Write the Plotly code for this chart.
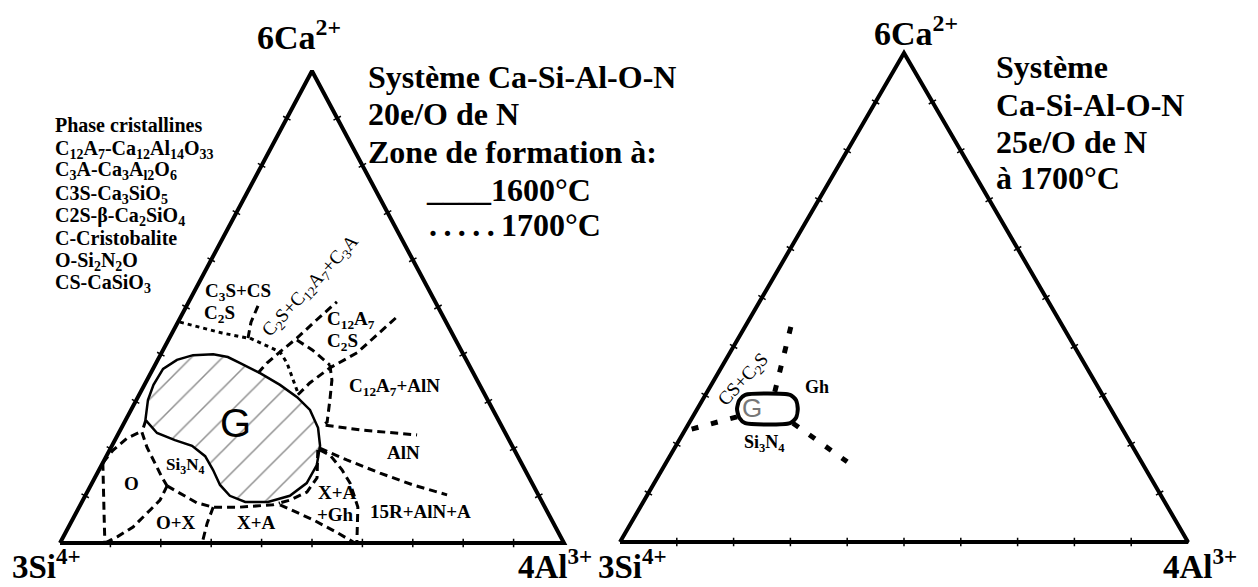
import math
import plotly.graph_objects as go

# ---------------------------------------------------------------------------
# DATA  -- compositions in equivalent %, Ca = 6Ca2+ apex (top),
#          Al = 4Al3+ apex (bottom right), Si = 100 - Ca - Al (bottom left)
# ---------------------------------------------------------------------------
TICKS = [10, 20, 30, 40, 50, 60, 70, 80, 90]
TRIANGLE_CA = [0, 0, 100, 0]
TRIANGLE_AL = [0, 100, 0, 0]

# Left diagram: 20 e/o N -- glass zone G at 1600 C (solid outline, hatched)
G1600_CA = [26.1, 30.3, 33.5, 36.9, 38.8, 39.8, 40.0, 39.4, 38.1, 36.0, 33.5, 30.9, 28.2, 24.4,
            20.6, 16.5, 12.7, 10.0, 8.7, 8.7, 10.0, 12.3, 15.5, 18.4, 20.6, 21.8, 23.3, 26.1]
G1600_AL = [3.9, 2.3, 1.8, 2.0, 3.8, 6.5, 10.4, 13.6, 16.7, 21.7, 26.9, 31.6, 35.5, 39.0,
            41.3, 42.7, 42.6, 40.6, 36.9, 32.4, 28.7, 25.6, 22.6, 19.6, 15.9, 11.9, 7.6, 3.9]

# phase-field boundaries (Ca, Al) -- dotted ones
B_C3SCS_C2S = [(46.8, 0.4), (45.8, 4.3), (44.5, 9.9), (43.4, 15.6)]
B_C2S_G = [(43.4, 16.0), (41.3, 21.6), (40.5, 23.4), (38.1, 26.0), (34.5, 29.0), (31.8, 31.3)]
# dashed ones
B_C3SCS_UP = [(43.4, 15.6), (46.8, 14.5), (50.9, 14.1)]
B_C2S_C12A7C3A = [(36.0, 21.3), (38.1, 22.0), (40.5, 23.4), (43.4, 25.3), (47.3, 27.3), (51.1, 29.4)]
B_C12A7_C2S = [(43.0, 25.5), (40.9, 29.6), (37.7, 34.7)]
B_C12A7C2S_C12A7ALN = [(31.4, 31.5), (33.9, 32.6), (37.1, 35.0), (40.3, 38.8), (47.9, 42.9)]
B_C12A7ALN_ALN = [(37.7, 34.7), (34.5, 36.7), (30.3, 38.4), (25.6, 40.2), (25.0, 39.7),
                  (23.9, 48.2), (22.9, 59.4)]
B_ALN_15R = [(20.1, 41.5), (17.6, 48.1), (14.8, 56.1), (12.3, 63.9), (10.2, 71.7)]
B_XAGH_15R = [(19.7, 41.7), (18.6, 44.3), (15.5, 48.2), (12.7, 51.2), (7.6, 55.3), (0.0, 58.9)]
B_XAGH_TOP = [(19.7, 41.3), (13.8, 44.1), (10.8, 43.6), (9.1, 41.1), (8.5, 39.4)]
B_XA_XAGH = [(8.1, 39.6), (4.9, 47.8), (2.1, 54.1), (0.0, 58.5)]
B_SI3N4_XA = [(12.1, 15.2), (10.6, 18.5), (8.5, 22.9), (7.6, 26.6), (7.6, 31.9), (8.1, 38.2), (8.5, 39.4)]
B_OX_XA = [(7.6, 26.6), (7.0, 26.7), (4.2, 27.1), (0.0, 28.2)]
B_O_OX = [(12.1, 15.2), (9.1, 15.3), (7.0, 14.4), (3.4, 12.8), (1.3, 10.7), (0.0, 8.9)]
B_O_LEFT = [(17.0, 0.0), (11.9, 2.6), (5.9, 5.8), (0.0, 8.9)]
B_O_TOP = [(17.0, 0.0), (19.7, 0.7), (22.2, 2.2), (23.5, 4.1)]
B_O_SI3N4 = [(26.1, 4.0), (23.5, 4.5), (20.3, 7.1), (17.6, 9.7), (14.0, 13.2), (12.1, 15.2)]

# Right diagram: 25 e/o N at 1700 C
G1700_CA = [30.1, 30.1, 29.0, 27.2, 25.4, 24.3, 24.3, 25.4, 27.2, 29.0, 30.1]
G1700_AL = [7.0, 14.9, 16.5, 17.7, 18.3, 17.8, 9.9, 8.3, 7.0, 6.5, 7.0]
R_UP = [(30.7, 11.9), (38.2, 9.8), (46.0, 7.5)]
R_LEFT = [(25.6, 7.8), (22.9, 0.55)]
R_DOWN = [(24.3, 18.3), (16.4, 31.8)]

# field labels: (text, Ca, Al)
LEFT_LABELS = [
    ("C<sub>3</sub>S+CS", 53.2, 8.7),
    ("C<sub>2</sub>S", 48.5, 7.45),
    ("C<sub>12</sub>A<sub>7</sub>", 47.3, 34.05),
    ("C<sub>2</sub>S", 42.6, 34.7),
    ("C<sub>12</sub>A<sub>7</sub>+AlN", 33.1, 49.75),
    ("AlN", 19.1, 58.65),
    ("X+A", 10.6, 49.7),
    ("+Gh", 6.1, 51.55),
    ("15R+AlN+A", 6.6, 68.3),
    ("X+A", 4.45, 36.7),
    ("O+X", 4.45, 20.8),
    ("O", 12.7, 7.75),
]
LEFT_ROTATED = ("C<sub>2</sub>S+C<sub>12</sub>A<sub>7</sub>+C<sub>3</sub>A", 54.5, 22.55)
LEFT_SI3N4 = ("Si<sub>3</sub>N<sub>4</sub>", 16.3, 16.65)
LEFT_G = ("G", 25.4, 22.2)
RIGHT_LABELS = [("Gh", 31.7, 18.85), ("Si<sub>3</sub>N<sub>4</sub>", 20.2, 15.4)]
RIGHT_ROTATED = ("CS+C<sub>2</sub>S", 33.1, 5.25)
RIGHT_G = ("G", 27.4, 9.5)

PHASES = [
    "Phase cristallines",
    "C<sub>12</sub>A<sub>7</sub>-Ca<sub>12</sub>Al<sub>14</sub>O<sub>33</sub>",
    "C<sub>3</sub>A-Ca<sub>3</sub>A<sub>l2</sub>O<sub>6</sub>",
    "C3S-Ca<sub>3</sub>SiO<sub>5</sub>",
    "C2S-β-Ca<sub>2</sub>SiO<sub>4</sub>",
    "C-Cristobalite",
    "O-Si<sub>2</sub>N<sub>2</sub>O",
    "CS-CaSiO<sub>3</sub>",
]
LEFT_TITLE = ["Système Ca-Si-Al-O-N", "20e/O de N", "Zone de formation à:"]
LEFT_KEY = ["____1600°C", ".\u2009.\u2009.\u2009.\u2009.\u20091700°C"]
RIGHT_TITLE = ["Système", "Ca-Si-Al-O-N", "25e/O de N", "à 1700°C"]
APEX_TOP = "6Ca<sup>2+</sup>"
APEX_LEFT = "3Si<sup>4+</sup>"
APEX_RIGHT = "4Al<sup>3+</sup>"

# ---------------------------------------------------------------------------
# page body has an 8px margin: build the figure for the visible window
OFF = 8
W, H = 1258 - OFF, 587 - OFF
SERIF = "Liberation Serif"
SANS = "Liberation Sans"
PAD = 0.05
# triangle placement in window pixels: (left x, right x, base y, apex y)
LEFT_BOX = (60, 564, 543, 71)
RIGHT_BOX = (620, 1188, 542, 53)


def tern(ca, al):
    return [(a + c / 2) / 100 for c, a in zip(ca, al)], [c / 100 for c in ca]


def tern_pairs(pairs):
    return tern([p[0] for p in pairs], [p[1] for p in pairs])


def domains(box):
    x0, x1, yb, yt = box
    x0, x1, yb, yt = x0 - OFF, x1 - OFF, yb - OFF, yt - OFF
    sx, sy = x1 - x0, yb - yt
    dx = [(x0 - PAD * sx) / W, (x1 + PAD * sx) / W]
    dy = [1 - (yb + PAD * sy) / H, 1 - (yt - PAD * sy) / H]
    return dx, dy, math.degrees(math.atan2(sy, sx / 2))


fig = go.Figure()


def add_triangle(xa, ya, alpha):
    x, y = tern(TRIANGLE_CA, TRIANGLE_AL)
    fig.add_trace(go.Scatter(x=x, y=y, mode="lines", line=dict(color="black", width=4),
                             xaxis=xa, yaxis=ya, hoverinfo="skip"))
    groups = [
        ([0] * len(TICKS), TICKS, 0),
        (TICKS, [0] * len(TICKS), -alpha),
        (TICKS, [100 - t for t in TICKS], alpha),
    ]
    for ca, al, ang in groups:
        tx, ty = tern(ca, al)
        fig.add_trace(go.Scatter(x=tx, y=ty, mode="markers", xaxis=xa, yaxis=ya, hoverinfo="skip",
                                 marker=dict(symbol="line-ns", size=6, angle=ang,
                                             line=dict(color="black", width=1.5))))


def add_line(pairs, xa, ya, dash, width=3):
    x, y = tern_pairs(pairs)
    fig.add_trace(go.Scatter(x=x, y=y, mode="lines", xaxis=xa, yaxis=ya, hoverinfo="skip",
                             line=dict(color="black", width=width, dash=dash)))


# ---- left diagram
ldx, ldy, lalpha = domains(LEFT_BOX)
add_triangle("x", "y", lalpha)
gx, gy = tern(G1600_CA, G1600_AL)
fig.add_trace(go.Scatter(x=gx, y=gy, mode="lines", fill="toself", fillcolor="white",
                         fillpattern=dict(shape="/", size=22, solidity=0.07, fgcolor="#222",
                                          bgcolor="white"),
                         line=dict(color="black", width=2.5), hoverinfo="skip"))
DOT = "4px,4px"
DASH = "8px,5px"
for b in [B_C3SCS_C2S, B_C2S_G]:
    add_line(b, "x", "y", DOT)
for b in [B_C3SCS_UP, B_C2S_C12A7C3A, B_C12A7_C2S, B_C12A7C2S_C12A7ALN, B_C12A7ALN_ALN, B_ALN_15R,
          B_XAGH_15R, B_XAGH_TOP, B_XA_XAGH, B_SI3N4_XA, B_OX_XA, B_O_OX, B_O_LEFT, B_O_TOP,
          B_O_SI3N4]:
    add_line(b, "x", "y", DASH)

# ---- right diagram
rdx, rdy, ralpha = domains(RIGHT_BOX)
add_triangle("x2", "y2", ralpha)
gx2, gy2 = tern(G1700_CA, G1700_AL)
fig.add_trace(go.Scatter(x=gx2, y=gy2, mode="lines", xaxis="x2", yaxis="y2", hoverinfo="skip",
                         line=dict(color="black", width=4, shape="spline", smoothing=0.6)))
for b in [R_UP, R_LEFT, R_DOWN]:
    add_line(b, "x2", "y2", "7px,13px", width=5)

# ---- annotations
ann = []


def txt(text, x, y, size, xref="paper", yref="paper", bold=True, angle=0, xanchor="center",
        yanchor="middle", family=SERIF, color="black"):
    ann.append(dict(text=("<b>%s</b>" % text) if bold else text, x=x, y=y, xref=xref, yref=yref,
                    showarrow=False, textangle=angle, xanchor=xanchor, yanchor=yanchor,
                    font=dict(family=family, size=size, color=color)))


def label(item, xr, yr, size, **kw):
    t, ca, al = item
    x, y = tern([ca], [al])
    txt(t, x[0], y[0], size, xref=xr, yref=yr, **kw)


for it in LEFT_LABELS:
    label(it, "x", "y", 19)
label(LEFT_SI3N4, "x", "y", 17)
label(LEFT_ROTATED, "x", "y", 19, bold=False, angle=-47)
label(LEFT_G, "x", "y", 40, bold=False, family=SANS)
for it in RIGHT_LABELS:
    label(it, "x2", "y2", 18)
label(RIGHT_ROTATED, "x2", "y2", 19, bold=False, angle=-47)
label(RIGHT_G, "x2", "y2", 26, bold=False, family=SANS, color="#777")


def P(xp, yp):
    return (xp - OFF) / W, 1 - (yp - OFF) / H


for i, t in enumerate(PHASES):
    x, y = P(53, [125, 149, 171, 194, 216, 238, 261, 283][i])
    txt(t, x, y, 20, xanchor="left")
for t, yp in zip(LEFT_TITLE, [77, 114, 152]):
    x, y = P(366, yp)
    txt(t, x, y, 32, xanchor="left")
for t, (xp, yp) in zip(LEFT_KEY, [(424, 190), (427, 225)]):
    x, y = P(xp, yp)
    txt(t, x, y, 32, xanchor="left")
for t, yp in zip(RIGHT_TITLE, [67, 105, 142, 178]):
    x, y = P(994, yp)
    txt(t, x, y, 32, xanchor="left")

x, y = P(299, 35)
txt(APEX_TOP, x, y, 34)
x, y = P(916, OFF)
txt(APEX_TOP, x, y, 34, yanchor="top")
for t, xp in [(APEX_LEFT, 10), (APEX_RIGHT, 516), (APEX_LEFT, 596), (APEX_RIGHT, 1161)]:
    x, y = P(xp, 587)
    txt(t, x, y, 33, xanchor="left", yanchor="bottom")

ax = dict(visible=False, range=[-PAD, 1 + PAD], fixedrange=True)
fig.update_layout(
    width=W, height=H, margin=dict(l=0, r=0, t=0, b=0),
    paper_bgcolor="white", plot_bgcolor="rgba(0,0,0,0)", showlegend=False,
    xaxis=dict(ax, domain=ldx), yaxis=dict(ax, domain=ldy),
    xaxis2=dict(ax, domain=rdx), yaxis2=dict(ax, domain=rdy),
    annotations=ann,
)
fig.write_html("out.html")
